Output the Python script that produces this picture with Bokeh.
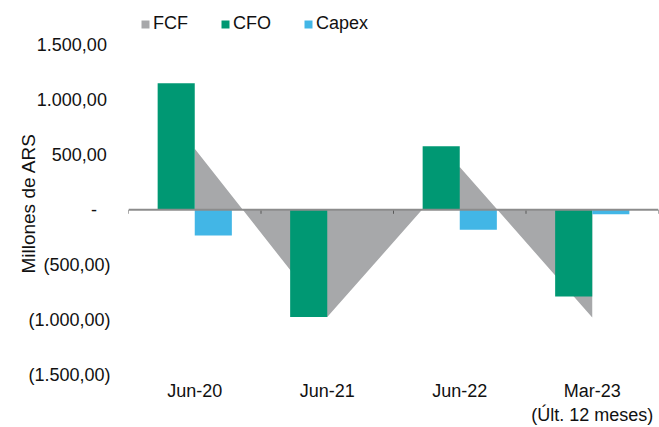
import numpy as np
from bokeh.plotting import figure
from bokeh.models import Range1d, FixedTicker, Legend, LegendItem, Span
from bokeh.embed import file_html
from bokeh.resources import INLINE

# ---- data ----
categories = ["Jun-20", "Jun-21", "Jun-22", "Mar-23\n(Últ. 12 meses)"]
fcf = [556, -977, 389, -980]
cfo = [1153, -977, 579, -790]
capex = [-235, 0, -181, -40]
y_ticks = [-1500, -1000, -500, 0, 500, 1000, 1500]
y_tick_labels = ["(1.500,00)", "(1.000,00)", "(500,00)", "-", "500,00", "1.000,00", "1.500,00"]

# ---- style ----
GREEN = "#009873"
BLUE = "#42b6e6"
GREY = "#a7a8aa"
FONT = "Liberation Sans"
FS = "18px"
TXT = "#111111"

n = len(categories)
centers = np.arange(n) + 0.5
bounds = np.arange(n + 1)
bw = 0.28

# layout: frame spans from canvas top (room for legend) to y=-1500
H, BOTTOM = 427, 50
frame_h = H - BOTTOM
top_gap_px = 45                       # pixels between canvas top and the 1500 level
y_lo, y_hi = min(y_ticks), max(y_ticks)
units_per_px = (y_hi - y_lo) / (frame_h - top_gap_px)
y_top = y_hi + top_gap_px * units_per_px

p = figure(width=659, height=H, output_backend="svg", toolbar_location=None,
           x_range=Range1d(0, n), y_range=Range1d(y_lo, y_top),
           min_border_left=128, min_border_right=1, min_border_top=0, min_border_bottom=BOTTOM)
p.xgrid.visible = False
p.ygrid.visible = False
p.outline_line_color = None
p.background_fill_color = None
p.border_fill_color = "white"

p.varea(x=centers, y1=np.zeros(n), y2=fcf, fill_color=GREY)
r_cfo = p.vbar(x=centers - bw / 2, width=bw, top=cfo, bottom=0, fill_color=GREEN, line_color=None)
r_cap = p.vbar(x=centers + bw / 2, width=bw, top=capex, bottom=0, fill_color=BLUE, line_color=None)
# legend-only swatch for the FCF area (zero-height bar -> square key like the reference)
r_fcf_key = p.vbar(x=centers[:1], top=[0], bottom=[0], width=bw, fill_color=GREY, line_color=None)

# zero axis line and category boundary ticks
p.add_layout(Span(location=0, dimension="width", line_color="#8c8c8c", line_width=2))
tick_len = 4 * units_per_px
p.segment(x0=bounds, x1=bounds, y0=np.zeros(n + 1), y1=-tick_len * np.ones(n + 1),
          line_color="#595959", line_width=1)

# x axis (labels only, at bottom)
xa = p.xaxis[0]
xa.ticker = FixedTicker(ticks=list(centers))
xa.major_label_overrides = {float(c): lab for c, lab in zip(centers, categories)}
xa.axis_line_color = None
xa.major_tick_line_color = None
xa.minor_tick_line_color = None
xa.major_tick_out = 0
xa.major_tick_in = 0
xa.major_label_standoff = 6
xa.major_label_text_font = FONT
xa.major_label_text_font_size = FS
xa.major_label_text_color = TXT
xa.major_label_text_line_height = 1.2

# y axis
pad = {"-": "-\u2007\u2009"}
ya = p.yaxis[0]
ya.ticker = FixedTicker(ticks=y_ticks)
ya.major_label_overrides = {
    t: pad.get(lab, lab if lab.startswith("(") else lab + "\u2009")
    for t, lab in zip(y_ticks, y_tick_labels)
}
ya.axis_line_color = None
ya.major_tick_line_color = None
ya.minor_tick_line_color = None
ya.major_tick_out = 0
ya.major_tick_in = 0
ya.major_label_standoff = 18
ya.major_label_text_font = FONT
ya.major_label_text_font_size = FS
ya.major_label_text_color = TXT
ya.axis_label = "Millones de ARS" + "\u2007\u2007\u2007"
ya.axis_label_standoff = -14
ya.axis_label_text_font = FONT
ya.axis_label_text_font_size = "19px"
ya.axis_label_text_font_style = "normal"
ya.axis_label_text_color = TXT

legend = Legend(items=[LegendItem(label="FCF", renderers=[r_fcf_key]),
                       LegendItem(label="CFO", renderers=[r_cfo]),
                       LegendItem(label="Capex", renderers=[r_cap])],
                orientation="horizontal", location=(12, 340),
                glyph_width=10, glyph_height=10, label_height=10, label_standoff=3,
                spacing=32, padding=0, margin=0,
                border_line_color=None, background_fill_alpha=0,
                label_text_font=FONT, label_text_font_size=FS, label_text_color=TXT,
                label_text_baseline="middle")
p.add_layout(legend, "center")

open("out.html", "w").write(file_html(p, INLINE))
